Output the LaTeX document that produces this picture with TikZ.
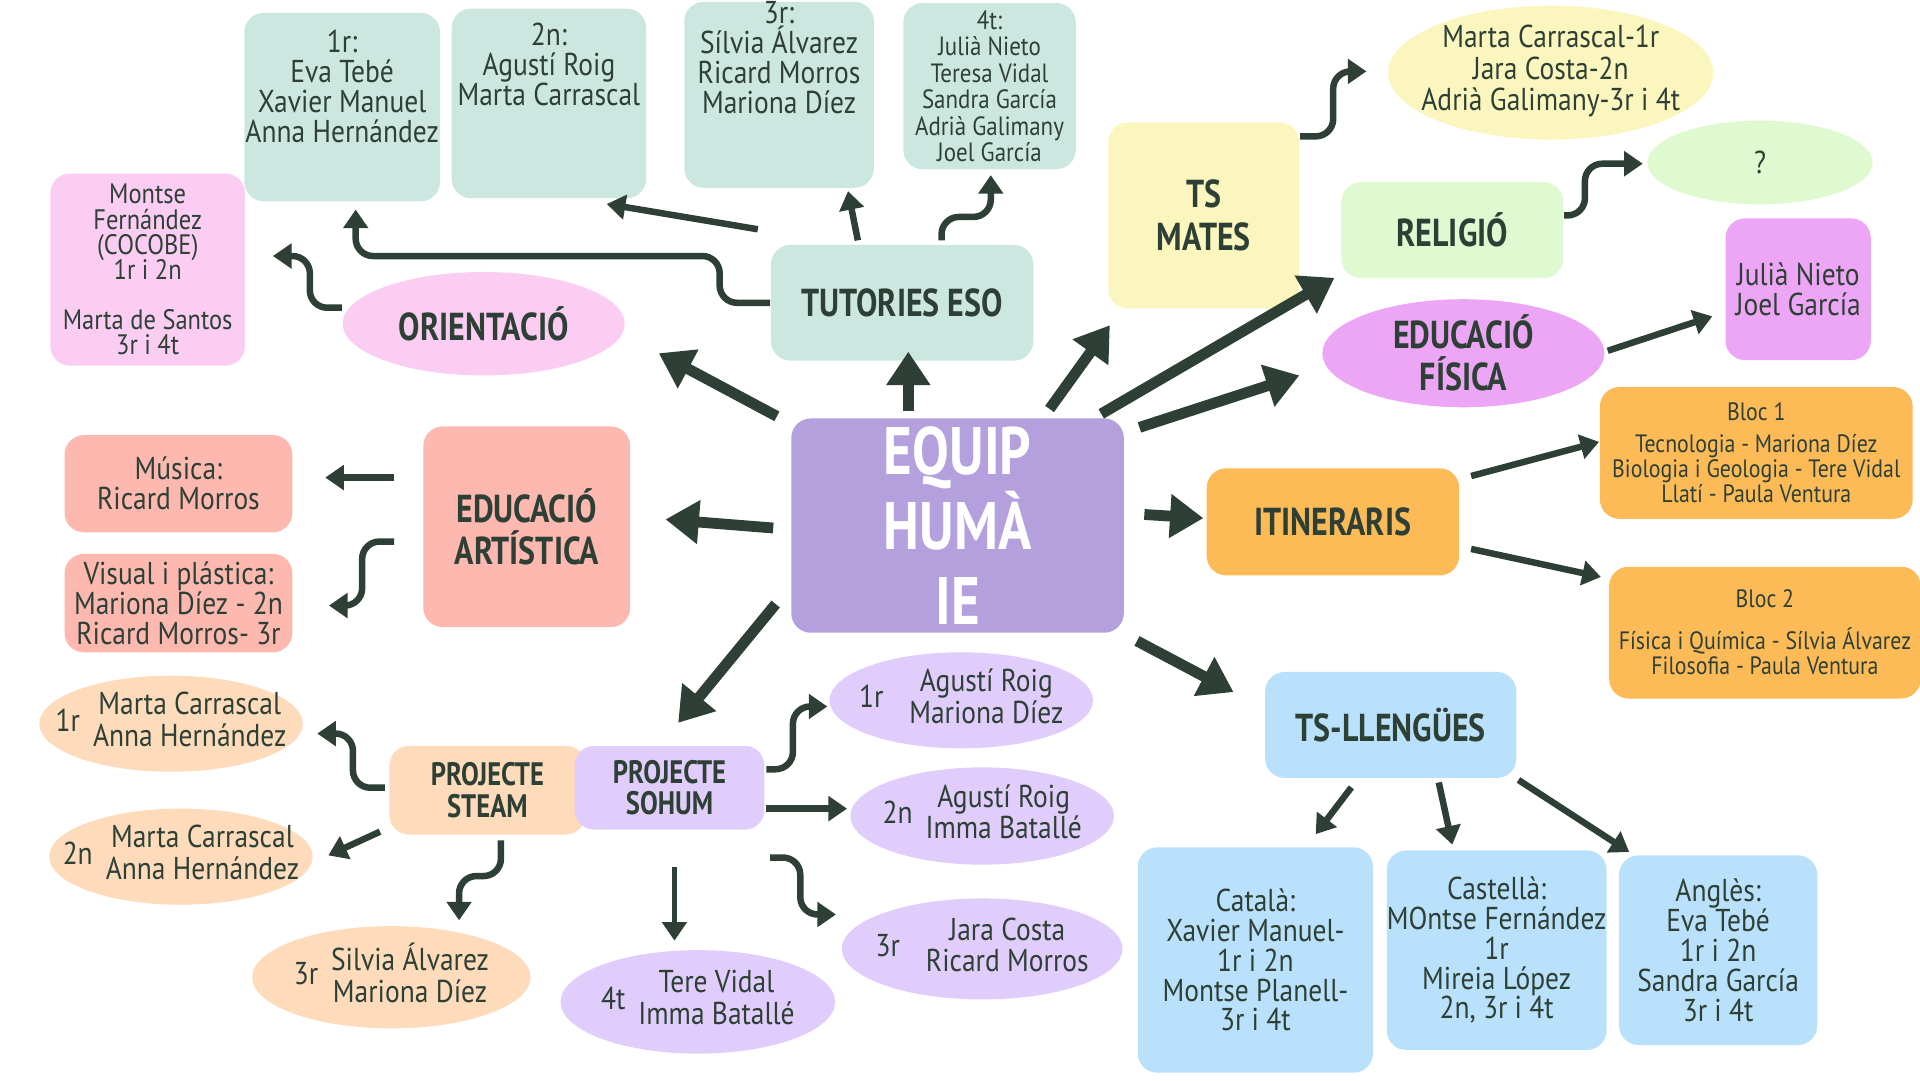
\documentclass[tikz,border=0pt]{standalone}
\usepackage{fontspec}
\setmainfont{PT Sans}[FakeStretch=0.87,BoldFeatures={FakeStretch=0.82}]
\usetikzlibrary{calc,arrows.meta,shapes.geometric}
\definecolor{ink}{HTML}{2E4036}
\definecolor{lila}{HTML}{B3A0DD}
\definecolor{menta}{HTML}{CCE7DF}
\definecolor{rosa}{HTML}{FBCDF3}
\definecolor{salmo}{HTML}{FDB8AF}
\definecolor{groc}{HTML}{FAF6BE}
\definecolor{verd}{HTML}{DFF9D1}
\definecolor{viola}{HTML}{ECA6F5}
\definecolor{taronja}{HTML}{FDBB57}
\definecolor{blau}{HTML}{BAE1FB}
\definecolor{pressec}{HTML}{FEDBBA}
\definecolor{lilaclar}{HTML}{E0CDFC}
\lineskiplimit=-\maxdimen
\newcommand{\duesnoms}[3]{\makebox[0pt]{\lineskiplimit=0pt #1\hspace{3pt}\begin{tabular}{@{}c@{}}#2\\ #3\end{tabular}}}
\begin{document}
\begin{tikzpicture}[x=0.01cm,y=-0.01cm,
  box/.style={rectangle,rounded corners=4.5pt,inner sep=0pt,align=center,text=ink},
  oval/.style={ellipse,inner sep=0pt,align=center,text=ink},
  title/.style={font=\bfseries\fontsize{9}{9.7}\selectfont},
  names/.style={font=\fontsize{7.3}{6.9}\selectfont},
  small names/.style={font=\fontsize{5.8}{5.8}\selectfont},
  top text/.style={align=center,text=ink,inner sep=0pt,anchor=north,names},
  big arrow/.style={draw=ink,line width=2.5pt,-{Triangle[length=7.7pt,width=9.7pt]}},
  thin arrow/.style={draw=ink,line width=1.5pt,-{Triangle[length=4.3pt,width=5.6pt]}},
  elbow/.style={thin arrow,rounded corners=4pt}]

\fill[white] (0,0) rectangle (1560,877.5);
\useasboundingbox (0,0) rectangle (1560,877.5);

\node[box,fill=lila,minimum width=2.7cm,minimum height=1.74cm,text=white,
  font=\bfseries\fontsize{15.5}{17.4}\selectfont] (equip) at (778,427) {EQUIP\\HUMÀ\\IE};

\node[box,fill=menta,minimum width=2.13cm,minimum height=0.94cm,title] (tutories) at (733,246) {TUTORIES ESO};
\node[box,fill=menta,minimum width=1.59cm,minimum height=1.53cm,
  label={[top text,yshift=-4pt]north:{1r:\\Eva Tebé\\Xavier Manuel\\Anna Hernández}}] (tut1) at (278,87) {};
\node[box,fill=menta,minimum width=1.58cm,minimum height=1.54cm,
  label={[top text,yshift=-3.4pt]north:{2n:\\Agustí Roig\\Marta Carrascal}}] (tut2) at (446,84) {};
\node[box,fill=menta,minimum width=1.54cm,minimum height=1.51cm,
  label={[top text]north:{3r:\\Sílvia Álvarez\\Ricard Morros\\Mariona Díez}}] (tut3) at (633,77) {};
\node[box,fill=menta,minimum width=1.4cm,minimum height=1.35cm,font=\fontsize{6.1}{6.1}\selectfont] (tut4) at (804,70)
  {4t:\\Julià Nieto\\Teresa Vidal\\Sandra García\\Adrià Galimany\\Joel García};

\node[oval,fill=rosa,minimum width=2.29cm,minimum height=0.84cm,title] (orientacio) at (393,263) {ORIENTACIÓ};
\node[box,fill=rosa,minimum width=1.58cm,minimum height=1.56cm,font=\fontsize{6.5}{5.8}\selectfont] (cocobe) at (120,219)
  {Montse\\Fernández\\(COCOBE)\\1r i 2n\\[5.8pt]Marta de Santos\\3r i 4t};

\node[box,fill=groc,minimum width=1.55cm,minimum height=1.51cm,font=\bfseries\fontsize{9}{10}\selectfont] (mates) at (978,175) {TS\\MATES};
\node[oval,fill=groc,minimum width=2.64cm,minimum height=0.97cm,names] (matesnoms) at (1260,59)
  {\makebox[0pt]{\lineskiplimit=0pt\begin{tabular}{@{}c@{}}Marta Carrascal-1r\\ Jara Costa-2n\\ Adrià Galimany-3r i 4t\end{tabular}}};

\node[box,fill=verd,minimum width=1.8cm,minimum height=0.78cm,title] (religio) at (1180,187) {RELIGIÓ};
\node[oval,fill=verd,minimum width=1.83cm,minimum height=0.68cm,names] (relnoms) at (1430,132) {?};

\node[oval,fill=viola,minimum width=2.29cm,minimum height=0.83cm,title] (ef) at (1189,287) {EDUCACIÓ\\FÍSICA};
\node[box,fill=viola,minimum width=1.18cm,minimum height=1.15cm,names] (efnoms) at (1461,235) {Julià Nieto\\Joel García};

\node[box,fill=taronja,minimum width=2.05cm,minimum height=0.87cm,title] (itineraris) at (1083,424) {ITINERARIS};
\node[box,fill=taronja,minimum width=2.54cm,minimum height=1.07cm,small names] (bloc1) at (1427,368)
  {Bloc 1\\[1.6pt]Tecnologia - Mariona Díez\\Biologia i Geologia - Tere Vidal\\Llatí - Paula Ventura};
\node[box,fill=taronja,minimum width=2.53cm,minimum height=1.07cm,small names] (bloc2) at (1434,514)
  {Bloc 2\\[3.9pt]Física i Química - Sílvia Álvarez\\Filosofia - Paula Ventura};

\node[box,fill=blau,minimum width=2.04cm,minimum height=0.86cm,title] (llengues) at (1130,589) {TS-LLENGÜES};
\node[box,fill=blau,minimum width=1.91cm,minimum height=1.83cm,names] (catala) at (1020,780)
  {Català:\\Xavier Manuel-\\1r i 2n\\Montse Planell-\\3r i 4t};
\node[box,fill=blau,minimum width=1.75cm,minimum height=1.62cm,names] (castella) at (1216,772)
  {Castellà:\\MOntse Fernández\\1r\\Mireia López\\2n, 3r i 4t};
\node[box,fill=blau,minimum width=1.61cm,minimum height=1.54cm,names] (angles) at (1396,772)
  {Anglès:\\Eva Tebé\\1r i 2n\\Sandra García\\3r i 4t};

\node[box,fill=salmo,minimum width=1.68cm,minimum height=1.63cm,title] (artistica) at (428,428) {EDUCACIÓ\\ARTÍSTICA};
\node[box,fill=salmo,minimum width=1.85cm,minimum height=0.79cm,names] (musica) at (145,393) {Música:\\Ricard Morros};
\node[box,fill=salmo,minimum width=1.85cm,minimum height=0.8cm,names] (visual) at (145,490)
  {Visual i plástica:\\Mariona Díez - 2n\\Ricard Morros- 3r};

\node[box,fill=pressec,minimum width=1.59cm,minimum height=0.72cm,font=\bfseries\fontsize{7.5}{7.3}\selectfont] (steam) at (396,642) {PROJECTE\\STEAM};
\node[box,fill=lilaclar,minimum width=1.54cm,minimum height=0.68cm,font=\bfseries\fontsize{7.5}{7.3}\selectfont] (sohum) at (544,640) {PROJECTE\\SOHUM};

\node[oval,fill=pressec,minimum width=2.14cm,minimum height=0.78cm,names] (steam1) at (139,588)
  {\duesnoms{1r}{Marta Carrascal}{Anna Hernández}};
\node[oval,fill=pressec,minimum width=2.14cm,minimum height=0.78cm,names] (steam2) at (147,696)
  {\duesnoms{2n}{Marta Carrascal}{Anna Hernández}};
\node[oval,fill=pressec,minimum width=2.26cm,minimum height=0.83cm,names] (steam3) at (318,794)
  {\duesnoms{3r}{Silvia Álvarez}{Mariona Díez}};

\node[oval,fill=lilaclar,minimum width=2.14cm,minimum height=0.78cm,names] (sohum1) at (781,569)
  {\duesnoms{1r\hspace{3pt}}{Agustí Roig}{Mariona Díez}};
\node[oval,fill=lilaclar,minimum width=2.14cm,minimum height=0.79cm,names] (sohum2) at (798,663)
  {\duesnoms{2n}{Agustí Roig}{Imma Batallé}};
\node[oval,fill=lilaclar,minimum width=2.28cm,minimum height=0.82cm,names] (sohum3) at (798,771)
  {\duesnoms{3r\hspace{3pt}}{Jara Costa}{Ricard Morros}};
\node[oval,fill=lilaclar,minimum width=2.23cm,minimum height=0.84cm,names] (sohum4) at (567,814)
  {\duesnoms{4t}{Tere Vidal}{Imma Batallé}};

\draw[big arrow] ($(equip.north west)+(-11,-1)$) -- ($(orientacio.east)+(27,24)$);
\draw[big arrow] ($(equip.north)+(-40,-5)$) -- ($(tutories.south)+(5,-8)$);
\draw[big arrow] ($(equip.north east)+(-61,-7)$) -- ($(mates.south west)+(2,13)$);
\draw[big arrow] ($(equip.north east)+(-19,-3)$) -- ($(religio.south west)+(-5,-1)$);
\draw[big arrow] ($(equip.north east)+(12,8)$) -- ($(ef.west)+(-18,18)$);
\draw[big arrow] ($(equip.east)+(16,-9)$) -- ($(itineraris.west)+(-2,-3)$);
\draw[big arrow] ($(equip.south east)+(10,6)$) -- ($(llengues.north west)+(-25,17)$);
\draw[big arrow] ($(equip.west)+(-14,2)$) -- ($(artistica.east)+(28,-6)$);
\draw[big arrow] ($(equip.south west)+(-12,-24)$) -- ($(sohum.north)+(7,-18)$);

\draw[elbow] (tutories.west) -| ($(tutories.west)+(-41,-38)$) -| ($(tut1.south)+(11,6)$);
\draw[thin arrow] ($(tutories.north west)+(-10,-12)$) -- ($(tut2.south)+(47,4)$);
\draw[thin arrow] ($(tutories.north)+(-36,-3)$) -- ($(tut3.south)+(56,2)$);
\draw[elbow] ($(tutories.north)+(32,-3)$) |- ($(tut4.south)+(1,38)$) -- ($(tut4.south)+(1,4)$);
\draw[elbow] ($(orientacio.west)+(0,-13)$) -| ($(cocobe.east)+(52,-11)$) -- ($(cocobe.east)+(22,-11)$);

\draw[elbow] ($(mates.north east)+(0,12)$) -| ($(matesnoms.west)+(-44,-1)$) -- ($(matesnoms.west)+(-17,-1)$);
\draw[elbow] ($(religio.east)+(0,-12)$) -| ($(relnoms.west)+(-50,1)$) -- ($(relnoms.west)+(-3,1)$);
\draw[thin arrow] ($(ef.east)+(2,-2)$) -- ($(efnoms.west)+(-10,22)$);
\draw[thin arrow] ($(itineraris.north east)+(9,7)$) -- ($(bloc1.west)+(0,-9)$);
\draw[thin arrow] ($(itineraris.east)+(9,22)$) -- ($(bloc2.north west)+(-6,9)$);

\draw[thin arrow] ($(llengues.south)+(-32,7)$) -- ($(catala.north)+(49,-10)$);
\draw[thin arrow] ($(llengues.south)+(39,3)$) -- ($(castella.north)+(-36,-4)$);
\draw[thin arrow] ($(llengues.south east)+(1,1)$) -- ($(angles.north west)+(9,-2)$);

\draw[thin arrow] ($(artistica.west)+(-23,-40)$) -- ($(musica.east)+(26,-5)$);
\draw[elbow] ($(artistica.west)+(-23,12)$) -| ($(visual.east)+(56,2)$) -- ($(visual.east)+(29,2)$);

\draw[elbow] ($(steam.west)+(-3,-2)$) -| ($(steam1.east)+(40,8)$) -- ($(steam1.east)+(11,8)$);
\draw[thin arrow] ($(steam.south west)+(-7,-3)$) -- ($(steam2.east)+(12,-1)$);
\draw[elbow] ($(steam.south)+(11,4)$) |- ($(steam3.north)+(55,-40)$) -- ($(steam3.north)+(55,-4)$);

\draw[elbow] ($(sohum.east)+(1,-15)$) -| ($(sohum1.west)+(-29,5)$) -- ($(sohum1.west)+(-1,5)$);
\draw[thin arrow] ($(sohum.east)+(1,17)$) -- ($(sohum2.west)+(-2,-6)$);
\draw[thin arrow,line width=1pt] ($(sohum.south)+(4,30)$) -- ($(sohum4.north)+(-19,-7)$);
\draw[elbow] ($(sohum.south east)+(4,22)$) -| ($(sohum3.west)+(-33,-28)$) -- ($(sohum3.west)+(-4,-28)$);

\end{tikzpicture}
\end{document}
